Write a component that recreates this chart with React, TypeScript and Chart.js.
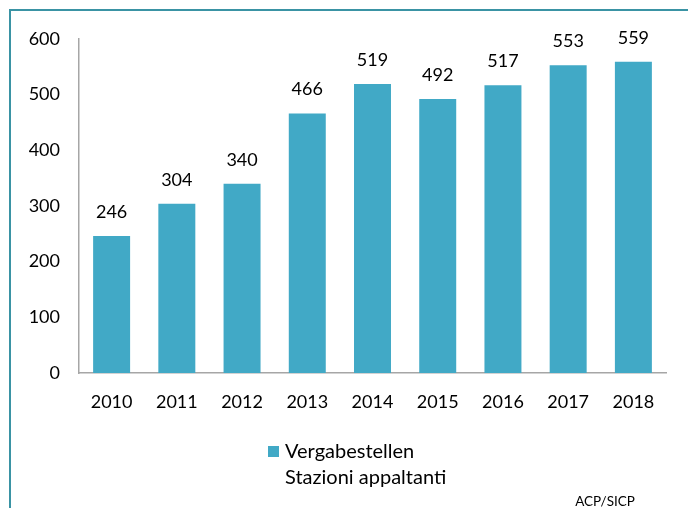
import React, { useEffect, useRef } from "react";
import { Chart, registerables } from "chart.js";

Chart.register(...registerables);

const years = ["2010", "2011", "2012", "2013", "2014", "2015", "2016", "2017", "2018"];
const stations = [246, 304, 340, 466, 519, 492, 517, 553, 559];
const legendLines = ["Vergabestellen", "Stazioni appaltanti"];
const sourceText = "ACP/SICP";

const FONT = "Lato, 'Open Sans', sans-serif";
const BAR = "#41a9c6";

const overlay = {
  id: "overlay",
  afterDatasetsDraw(chart: any) {
    const ctx = chart.ctx;
    const meta = chart.getDatasetMeta(0);
    ctx.save();
    ctx.fillStyle = "#000";
    ctx.font = `18px ${FONT}`;
    ctx.textAlign = "center";
    ctx.textBaseline = "middle";
    meta.data.forEach((bar: any, i: number) => {
      ctx.fillText(String(stations[i]), bar.x, bar.y - 24);
    });
    ctx.restore();
  },
  afterDraw(chart: any) {
    const ctx = chart.ctx;
    ctx.save();
    // frame
    ctx.strokeStyle = "#3a93a4";
    ctx.lineWidth = 2;
    ctx.strokeRect(10, 10, 720, 540);
    // legend
    ctx.fillStyle = BAR;
    ctx.fillRect(268, 446, 11, 11);
    ctx.fillStyle = "#000";
    ctx.font = `20px ${FONT}`;
    ctx.textAlign = "left";
    ctx.textBaseline = "middle";
    ctx.fillText(legendLines[0], 285, 452);
    ctx.fillText(legendLines[1], 285, 478);
    // source
    ctx.font = `13.5px ${FONT}`;
    ctx.textAlign = "center";
    ctx.fillText(sourceText, 605, 502);
    ctx.restore();
  },
};

export default function App() {
  const ref = useRef<HTMLCanvasElement>(null);
  useEffect(() => {
    if (!ref.current) return;
    const chart = new Chart(ref.current, {
      type: "bar",
      data: {
        labels: years,
        datasets: [
          {
            label: legendLines.join(" "),
            data: stations,
            backgroundColor: BAR,
            borderWidth: 0,
            barPercentage: 0.567,
            categoryPercentage: 1,
          },
        ],
      },
      options: {
        animation: false,
        responsive: false,
        maintainAspectRatio: false,
        layout: { padding: { left: 0, right: 22, top: 39, bottom: 95 } },
        plugins: {
          legend: { display: false },
          tooltip: { enabled: false },
        },
        scales: {
          x: {
            grid: { display: false, drawTicks: false },
            border: { display: true, color: "#a6a6a6", width: 1.5 },
            ticks: {
              color: "#000",
              font: { family: FONT, size: 18 },
              padding: 18,
              maxRotation: 0,
            },
            afterFit(scale: any) {
              scale.height = 40;
            },
          },
          y: {
            min: 0,
            max: 600,
            grid: { display: false, drawTicks: false },
            border: { display: true, color: "#a6a6a6", width: 1.5 },
            ticks: {
              stepSize: 100,
              color: "#000",
              font: { family: FONT, size: 18 },
              padding: 19,
            },
            afterFit(scale: any) {
              scale.width = 79;
            },
          },
        },
      },
      plugins: [overlay],
    });
    return () => chart.destroy();
  }, []);
  return (
    <div style={{ position: "absolute", left: 0, top: 0, width: 688, height: 508, background: "#fff" }}>
      <canvas ref={ref} width={688} height={508} style={{ display: "block", width: 688, height: 508 }} />
    </div>
  );
}
